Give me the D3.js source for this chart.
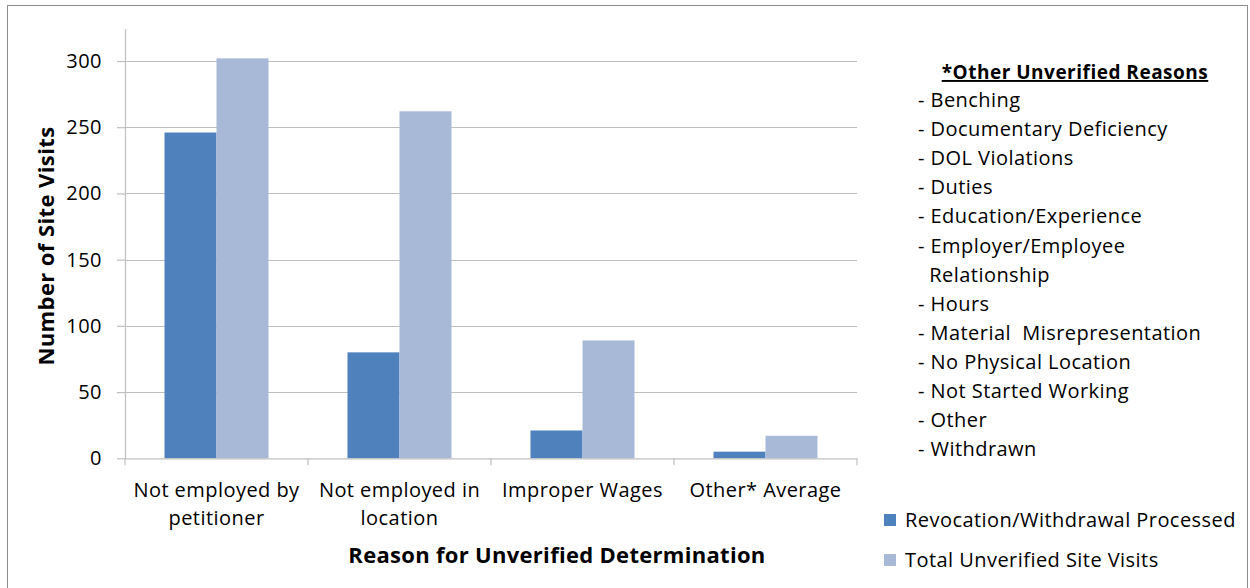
<!DOCTYPE html>
<html>
<head>
<meta charset="utf-8">
<script src="https://cdn.jsdelivr.net/npm/d3@7"></script>
<style>
  body { margin: 0; background: #fff; }
  text { font-family: "Open Sans", sans-serif; fill: #000; }
  .reg { font-size: 20px; letter-spacing: 0.45px; }
</style>
</head>
<body>
<svg id="chart" width="1250" height="588"></svg>
<script>
var categories = [["Not employed by", "petitioner"], ["Not employed in", "location"], ["Improper Wages"], ["Other* Average"]];
var seriesNames = ["Revocation/Withdrawal Processed", "Total Unverified Site Visits"];
var revocation = [246, 80, 21, 5];
var totalUnverified = [302, 262, 89, 17];
var yTicks = [0, 50, 100, 150, 200, 250, 300];
var otherReasons = ["- Benching", "- Documentary Deficiency", "- DOL Violations", "- Duties",
  "- Education/Experience", "- Employer/Employee", "  Relationship", "- Hours",
  "- Material  Misrepresentation", "- No Physical Location", "- Not Started Working",
  "- Other", "- Withdrawn"];
var colors = ["#4f81bd", "#a8b9d7"];

var svg = d3.select("#chart");

// outer frame
svg.append("rect")
  .attr("x", 7.5).attr("y", 5.5)
  .attr("width", 1240).attr("height", 600)
  .attr("fill", "none").attr("stroke", "#8c8c8c").attr("stroke-width", 1);

var plotLeft = 125, plotRight = 857, plotTop = 29, plotBottom = 458.3;

var x = d3.scaleBand()
  .domain(d3.range(categories.length))
  .range([plotLeft, plotRight])
  .paddingInner(0).paddingOuter(0);

var y = d3.scaleLinear()
  .domain([0, 300])
  .range([plotBottom, 61]);

// gridlines
svg.append("g").selectAll("line")
  .data(yTicks.filter(function(d){ return d > 0; }))
  .enter().append("line")
  .attr("x1", plotLeft).attr("x2", plotRight)
  .attr("y1", function(d){ return Math.round(y(d)) + 0.5; })
  .attr("y2", function(d){ return Math.round(y(d)) + 0.5; })
  .attr("stroke", "#bfbfbf").attr("stroke-width", 1.2);

// bars
var gap = 39.5;
var x1 = d3.scaleBand().domain([0, 1]).range([0, x.bandwidth() - 2 * gap]);
var groups = svg.append("g").selectAll("g")
  .data(categories.map(function(c, i){ return [revocation[i], totalUnverified[i]]; }))
  .enter().append("g")
  .attr("transform", function(d, i){ return "translate(" + (x(i) + gap) + ",0)"; });
groups.selectAll("rect")
  .data(function(d){ return d; })
  .enter().append("rect")
  .attr("x", function(d, j){ return x1(j); })
  .attr("width", x1.bandwidth())
  .attr("y", function(d){ return y(d); })
  .attr("height", function(d){ return plotBottom - y(d); })
  .attr("fill", function(d, j){ return colors[j]; });

// y axis
var yAxis = svg.append("g")
  .attr("transform", "translate(" + plotLeft + ",0)")
  .call(d3.axisLeft(y).tickValues(yTicks).tickSize(8).tickPadding(15));
yAxis.select(".domain").remove();
yAxis.append("line").attr("x1", 0.5).attr("x2", 0.5).attr("y1", plotTop).attr("y2", plotBottom + 1)
  .attr("stroke", "#bfbfbf").attr("stroke-width", 1.2);
yAxis.selectAll(".tick line").attr("stroke", "#bfbfbf").attr("stroke-width", 1.2);
yAxis.selectAll(".tick text").attr("class", "reg").attr("font-size", null).attr("fill", "#000")
  .style("font-family", "'Open Sans', sans-serif");

// x axis
var xAxisG = svg.append("g");
xAxisG.append("line").attr("x1", plotLeft).attr("x2", plotRight)
  .attr("y1", plotBottom + 0.5).attr("y2", plotBottom + 0.5)
  .attr("stroke", "#bfbfbf").attr("stroke-width", 1.2);
xAxisG.selectAll(".xt")
  .data(d3.range(categories.length + 1))
  .enter().append("line")
  .attr("x1", function(i){ return i < categories.length ? x(i) : plotRight; })
  .attr("x2", function(i){ return i < categories.length ? x(i) : plotRight; })
  .attr("y1", plotBottom).attr("y2", plotBottom + 7)
  .attr("stroke", "#bfbfbf").attr("stroke-width", 1.2);
xAxisG.selectAll(".xl")
  .data(categories)
  .enter().append("text")
  .attr("class", "reg")
  .attr("text-anchor", "middle")
  .attr("x", function(d, i){ return x(i) + x.bandwidth() / 2; })
  .attr("y", 497)
  .each(function(d){
    var t = d3.select(this);
    d.forEach(function(line, k){
      t.append("tspan").attr("x", t.attr("x")).attr("dy", k === 0 ? 0 : 28).text(line);
    });
  });

// axis titles
svg.append("text")
  .attr("transform", "translate(54,246) rotate(-90)")
  .attr("text-anchor", "middle")
  .attr("font-size", 22).attr("font-weight", "bold")
  .style("letter-spacing", "0.4px")
  .text("Number of Site Visits");
svg.append("text")
  .attr("x", 557).attr("y", 563)
  .attr("text-anchor", "middle")
  .attr("font-size", 22).attr("font-weight", "bold")
  .style("letter-spacing", "0.3px")
  .text("Reason for Unverified Determination");

// other reasons note
svg.append("text")
  .attr("x", 1075).attr("y", 79)
  .attr("text-anchor", "middle")
  .attr("font-size", 19).attr("font-weight", "bold")
  .style("letter-spacing", "0.5px")
  .attr("text-decoration", "underline")
  .text("*Other Unverified Reasons");
svg.append("g").selectAll("text")
  .data(otherReasons)
  .enter().append("text")
  .attr("class", "reg")
  .attr("x", 918)
  .attr("y", function(d, i){ return 107 + i * 29.1; })
  .style("white-space", "pre")
  .text(function(d){ return d; });

// legend
var legend = svg.append("g").selectAll("g")
  .data(seriesNames)
  .enter().append("g")
  .attr("transform", function(d, i){ return "translate(884," + (520 + i * 40) + ")"; });
legend.append("rect")
  .attr("x", 0).attr("y", -6).attr("width", 12).attr("height", 12)
  .attr("fill", function(d, i){ return colors[i]; });
legend.append("text")
  .attr("class", "reg")
  .attr("x", 21).attr("y", 7)
  .text(function(d){ return d; });
</script>
</body>
</html>
